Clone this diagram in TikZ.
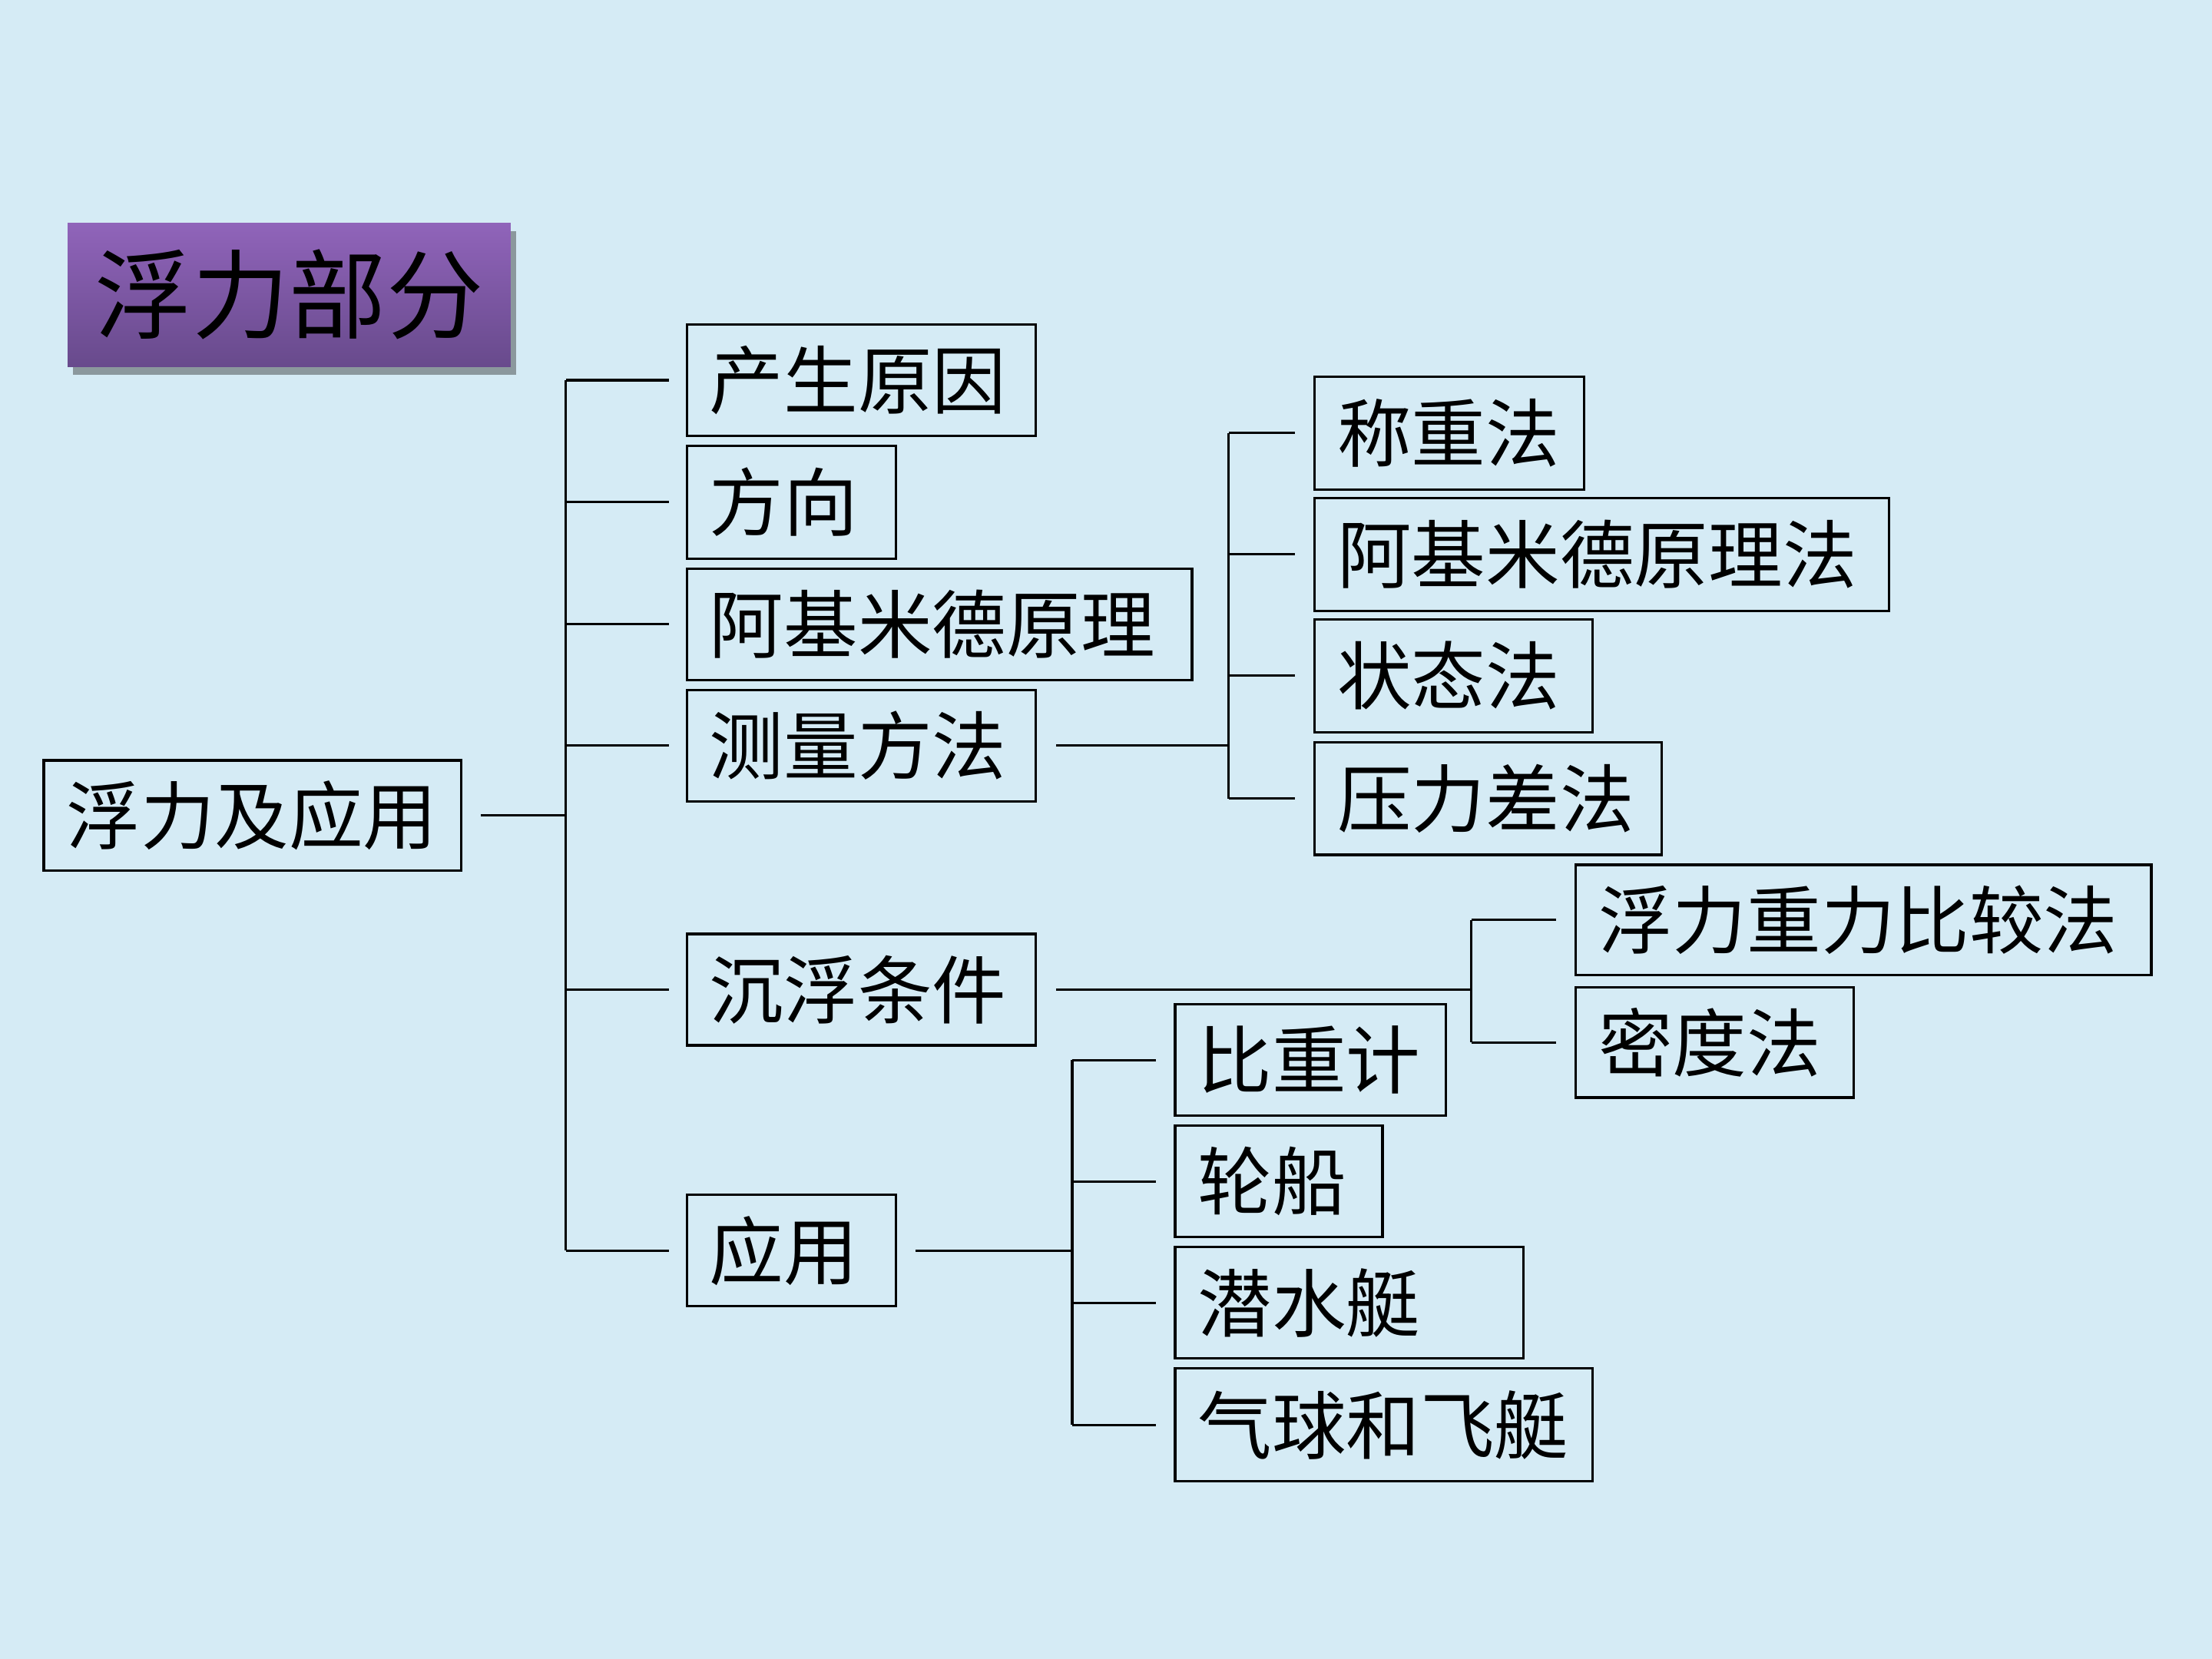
\documentclass[tikz,border=0pt]{standalone}
\usepackage{fontspec}
\setmainfont{Noto Sans CJK SC}
\usetikzlibrary{shadows,calc}
\definecolor{bgblue}{RGB}{213,235,245}
\definecolor{purpletop}{RGB}{144,100,186}
\definecolor{purplebot}{RGB}{104,74,140}
\newcommand\pu{0.018367cm}
\tikzset{
  bx/.style={draw=black, line width=0.9pt, inner ysep=0pt, inner xsep=16*\pu,
    align=left, text width=#1cm,
    font=\fontsize{27.5pt}{30pt}\selectfont, text=black},
  conn/.style={draw=black, line width=0.9pt},
}
\begin{document}
\begin{tikzpicture}[x=0.018367cm, y=-0.018367cm]
\useasboundingbox (0,0) rectangle (1568,1176);
\fill[bgblue] (0,0) rectangle (1568,1176);

% title
\node[inner sep=0pt, minimum width=314*\pu, minimum height=102*\pu,
      top color=purpletop, bottom color=purplebot,
      drop shadow={shadow xshift=2pt, shadow yshift=-3pt, opacity=0.45, fill=black!80},
      font=\fontsize{36pt}{40pt}\selectfont, text=black] (title) at (205,209) {浮力部分};

% root
\node[bx=4.849, minimum width=296*\pu, minimum height=78*\pu] (root) at (179,578) {浮力及应用};

% level 1
\node[bx=3.949, minimum width=247*\pu, minimum height=79*\pu] (a1) at (610.5,269.5) {产生原因};
\node[bx=2.131, minimum width=148*\pu, minimum height=80*\pu] (a2) at (561,356) {方向};
\node[bx=5.988, minimum width=358*\pu, minimum height=79*\pu] (a3) at (666,442.5) {阿基米德原理};
\node[bx=3.949, minimum width=247*\pu, minimum height=79*\pu] (a4) at (610.5,528.5) {测量方法};
\node[bx=3.949, minimum width=247*\pu, minimum height=79*\pu] (a5) at (610.5,701.5) {沉浮条件};
\node[bx=2.131, minimum width=148*\pu, minimum height=79*\pu] (a6) at (561,886.5) {应用};

% measurement methods
\node[bx=2.920, minimum width=191*\pu, minimum height=80*\pu] (b1) at (1027.5,307) {称重法};
\node[bx=6.888, minimum width=407*\pu, minimum height=80*\pu] (b2) at (1135.5,393) {阿基米德原理法};
\node[bx=3.031, minimum width=197*\pu, minimum height=80*\pu] (b3) at (1030.5,479) {状态法};
\node[bx=3.931, minimum width=246*\pu, minimum height=80*\pu] (b4) at (1055,566) {压力差法};

% sink/float conditions
\node[bx=6.906, minimum width=408*\pu, minimum height=78*\pu] (c1) at (1321,652) {浮力重力比较法};
\node[bx=3.031, minimum width=197*\pu, minimum height=78*\pu] (c2) at (1215.5,739) {密度法};

% applications
\node[bx=2.939, minimum width=192*\pu, minimum height=79*\pu] (d1) at (929,751.5) {比重计};
\node[bx=2.112, minimum width=147*\pu, minimum height=79*\pu] (d2) at (906.5,837.5) {轮船};
\node[bx=3.949, minimum width=247*\pu, minimum height=79*\pu] (d3) at (956.5,923.5) {潜水艇};
\node[bx=4.849, minimum width=296*\pu, minimum height=80*\pu] (d4) at (981,1010) {气球和飞艇};

% bus coordinates
\coordinate (busA) at (401,578);
\coordinate (busB) at (871,528.5);
\coordinate (busC) at (1043,701.5);
\coordinate (busD) at (760,886.5);

% root -> level 1
\draw[conn] ([xshift=13*\pu]root.east) -- (busA);
\draw[conn] (busA |- a1) -- (busA |- a6);
\foreach \n in {a1,a2,a3,a4,a5,a6}
  \draw[conn] (busA |- \n) -- ([xshift=-12*\pu]\n.west);

% measurement
\draw[conn] ([xshift=14*\pu]a4.east) -- (busB);
\draw[conn] (busB |- b1) -- (busB |- b4);
\foreach \n in {b1,b2,b3,b4}
  \draw[conn] (busB |- \n) -- ([xshift=-13*\pu]\n.west);

% conditions
\draw[conn] ([xshift=14*\pu]a5.east) -- (busC);
\draw[conn] (busC |- c1) -- (busC |- c2);
\foreach \n in {c1,c2}
  \draw[conn] (busC |- \n) -- ([xshift=-13*\pu]\n.west);

% applications
\draw[conn] ([xshift=13*\pu]a6.east) -- (busD);
\draw[conn] (busD |- d1) -- (busD |- d4);
\foreach \n in {d1,d2,d3,d4}
  \draw[conn] (busD |- \n) -- ([xshift=-13*\pu]\n.west);
\end{tikzpicture}
\end{document}
